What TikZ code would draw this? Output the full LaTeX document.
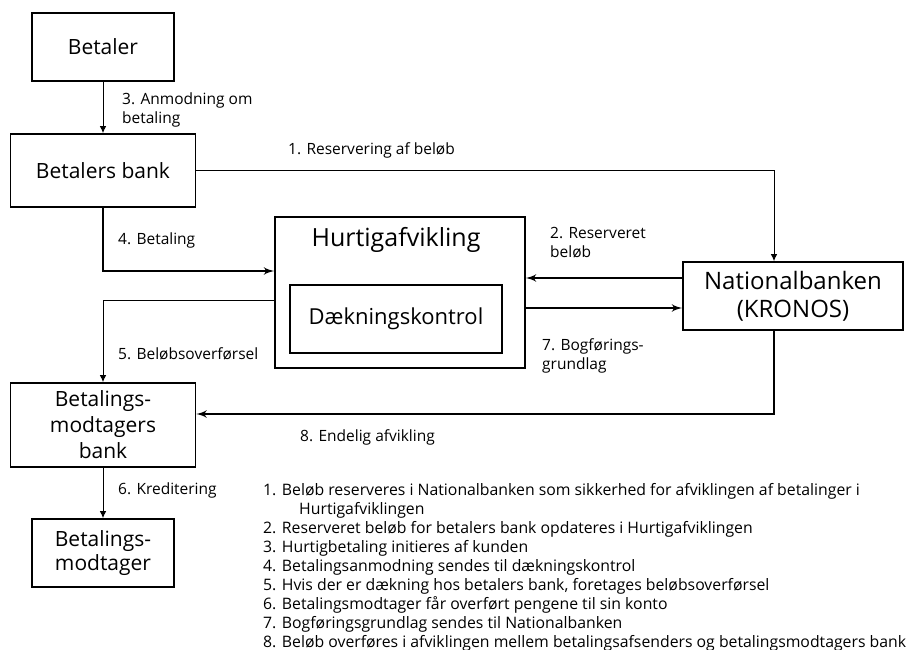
\documentclass[tikz,border=0pt]{standalone}
\usepackage{fontspec}
\setmainfont{Open Sans}
\usetikzlibrary{calc}
\usetikzlibrary{arrows,arrows.meta}

\tikzset{
 boks/.style={draw, line width=1.6pt, align=center, inner sep=2, font=\fontsize{21}{26}\selectfont},
 tynd/.style={black, line width=1pt, -{Latex[length=7pt,width=6.5pt]}},
 tyk/.style={black, line width=2.6pt, ->, >=latex'},
 lbl/.style={anchor=west, align=left, inner sep=0, font=\fontsize{15.5}{18.5}\selectfont},
}

\begin{document}
\begin{tikzpicture} [x=1pt, y=-1pt]
\useasboundingbox (0,0) rectangle (918,650);
\node[boks, minimum width=142pt, minimum height=68pt] (betaler) at (103,47) {Betaler};
\node[boks, minimum width=185pt, minimum height=73pt] (bbank) at (103,170.5) {Betalers bank};
\node[boks, minimum width=250pt, minimum height=151pt] (hurtig) at (400,292.5) {};
\node[inner sep=0, font=\fontsize{25}{28}\selectfont] (htitel) at (396,240) {Hurtigafvikling};
\node[boks, minimum width=212pt, minimum height=68pt, font=\fontsize{22}{26}\selectfont] (daek) at (396,319) {Dækningskontrol};
\node[boks, minimum width=220pt, minimum height=68pt, font=\fontsize{24}{28}\selectfont] (natbank) at (793,296) {Nationalbanken\\(KRONOS)};
\node[boks, minimum width=185pt, minimum height=84pt] (mbank) at (103,425) {Betalings-\\modtagers\\bank};
\node[boks, minimum width=142pt, minimum height=68pt, font=\fontsize{21}{24}\selectfont] (modtager) at (103,553) {Betalings-\\modtager};

\draw[tynd] (betaler.south) -- (bbank.north);
\draw[tynd] (bbank.east) -| ([xshift=-19pt]natbank.north);
\draw[tyk] (bbank.south) |- ([yshift=21.5pt]hurtig.west);
\draw[tynd] ([yshift=-7.5pt]hurtig.west) -| (mbank.north);
\draw[tyk] ([yshift=18pt]natbank.west) -- ([yshift=18pt]natbank.west -| hurtig.east);
\draw[tyk] ([yshift=-12pt]natbank.west -| hurtig.east) -- ([yshift=-12pt]natbank.west);
\draw[tyk] ([xshift=-19pt]natbank.south) |- ([yshift=11pt]mbank.east);
\draw[tynd] (mbank.south) -- (modtager.north);

\node[lbl] (l3) at (122,110) {3. Anmodning om\\betaling};
\node[lbl] (l1) at (288,150) {1. Reservering af beløb};
\node[lbl] (l4) at (118,240) {4. Betaling};
\node[lbl] (l2) at (550,242.5) {2. Reserveret\\beløb};
\node[lbl] (l5) at (118,354) {5. Beløbsoverførsel};
\node[lbl] (l7) at (542,356) {7. Bogførings-\\grundlag};
\node[lbl] (l8) at (300,437) {8. Endelig afvikling};
\node[lbl] (l6) at (118,490) {6. Kreditering};

\node[lbl, anchor=north west, font=\fontsize{15.8}{19}\selectfont] (liste) at (263,483.5) {1. Beløb reserveres i Nationalbanken som sikkerhed for afviklingen af betalinger i\\
 \hspace{36pt}Hurtigafviklingen\\
 2. Reserveret beløb for betalers bank opdateres i Hurtigafviklingen\\
 3. Hurtigbetaling initieres af kunden\\
 4. Betalingsanmodning sendes til dækningskontrol\\
 5. Hvis der er dækning hos betalers bank, foretages beløbsoverførsel\\
 6. Betalingsmodtager får overført pengene til sin konto\\
 7. Bogføringsgrundlag sendes til Nationalbanken\\
 8. Beløb overføres i afviklingen mellem betalingsafsenders og betalingsmodtagers bank};
\end{tikzpicture}
\end{document}
